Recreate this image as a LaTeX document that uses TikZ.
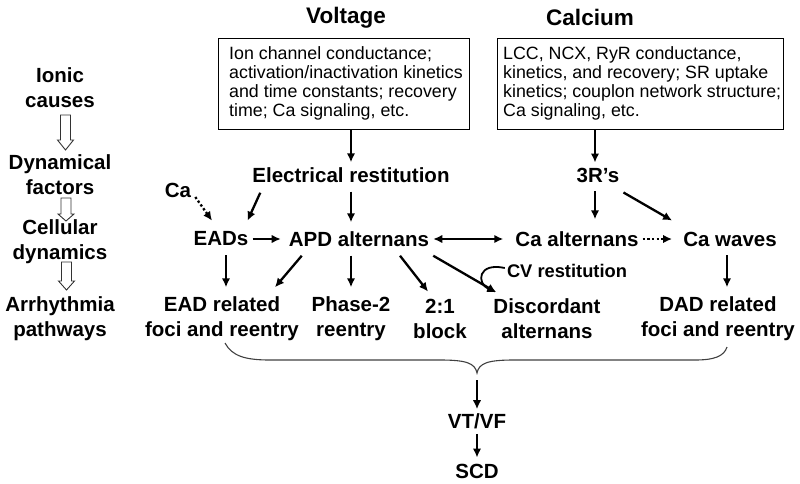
\documentclass[tikz,border=0pt]{standalone}
\usepackage{fontspec}
\setmainfont{Liberation Sans}
\usetikzlibrary{arrows.meta,calc}
\newcommand\hollowarr[4]{%
  \draw[hol] (#1-5,#2) -- (#1+5,#2) -- (#1+5,#3) -- (#1+8,#3) -- (#1,#4) -- (#1-8,#3) -- (#1-5,#3) -- cycle;}
\begin{document}
\begin{tikzpicture}[x=1pt,y=-1pt,
  lbl/.style={font=\fontsize{20.5}{25}\selectfont\bfseries, inner xsep=4pt, inner ysep=9pt, align=center},
  side/.style={font=\fontsize{20.5}{25}\selectfont\bfseries, inner sep=1pt, align=center},
  headl/.style={font=\fontsize{22.5}{27}\selectfont\bfseries, inner sep=1pt},
  boxtxt/.style={font=\fontsize{17.8}{19}\selectfont, align=left, inner sep=0pt, anchor=west},
  pbox/.style={draw, line width=1pt, inner sep=0pt},
  arr/.style={line width=2.3pt, -{Latex[length=9pt,width=8.5pt]}},
  dotarr/.style={arr, dash pattern=on 2.3pt off 2.3pt},
  hol/.style={draw=black!80, line width=0.9pt, fill=white},
  bracel/.style={draw=black!75, line width=1.1pt}
]
\useasboundingbox (0,0) rectangle (800,483);

% headings
\node[headl] (volt) at (346,18) {Voltage};
\node[headl] (calc) at (590,17.5) {Calcium};

% boxes
\node[pbox, minimum width=251pt, minimum height=91pt] (vbox) at (343.5,83.5) {};
\node[boxtxt] (vtxt) at (229,83) {Ion channel conductance;\\activation/inactivation kinetics\\and time constants; recovery\\time; Ca signaling, etc.};
\node[pbox, minimum width=286pt, minimum height=91pt] (cbox) at (640,83.5) {};
\node[boxtxt] (ctxt) at (503,83) {LCC, NCX, RyR conductance,\\kinetics, and recovery; SR uptake\\kinetics; couplon network structure;\\Ca signaling, etc.};

% left column
\node[side] (ionic) at (60,88) {Ionic\\causes};
\node[side] (dyn) at (60,175) {Dynamical\\factors};
\node[side] (cell) at (60,242) {Cellular\\dynamics};
\node[side] (arrh) at (60,319) {Arrhythmia\\pathways};
\hollowarr{65.5}{115}{140}{150}
\hollowarr{66}{198}{214}{221}
\hollowarr{66.5}{262}{281}{290}

% main nodes
\node[lbl] (er) at (351,175) {Electrical restitution};
\node[lbl] (r3) at (598,175) {3R’s};
\node[lbl] (ca) at (178,190) {Ca};
\node[lbl] (eads) at (221,239) {EADs};
\node[lbl] (apd) at (359,239) {APD alternans};
\node[lbl] (caalt) at (577,239) {Ca alternans};
\node[lbl] (cawaves) at (730,239) {Ca waves};
\node[lbl, font=\fontsize{18.3}{22}\selectfont\bfseries, inner ysep=2pt] (cvr) at (567,271) {CV restitution};
\node[lbl] (ead) at (222,318.5) {EAD related\\foci and reentry};
\node[lbl] (ph2) at (351,318.5) {Phase-2\\reentry};
\node[lbl] (blk) at (440,318.5) {2:1\\block};
\node[lbl] (disc) at (547,318.5) {Discordant\\alternans};
\node[lbl] (dad) at (718,318.5) {DAD related\\foci and reentry};
\node[lbl] (vtvf) at (477,421) {VT/VF};
\node[lbl] (scd) at (477,471) {SCD};

% brace
\coordinate (bl) at (225,343);
\coordinate (br) at (727,347);
\coordinate (bt) at (477,373);
\draw[bracel] (bl) .. controls (232,356) and (245,360) .. (270,360) -- (440,360)
  .. controls (466,360) and (475,363) .. (bt)
  .. controls (479,363) and (488,360) .. (514,360) -- (695,360)
  .. controls (715,360) and (724,356) .. (br);

% connectors
\draw[arr] ([xshift=7.5pt]vbox.south) -- ([yshift=-4pt]er.north);
\draw[arr] ([xshift=-45pt]cbox.south) -- ([xshift=-3pt,yshift=-4pt]r3.north);
\draw[arr] ([xshift=12pt,yshift=-1pt]er.south west) -- ([xshift=-5pt,yshift=2pt]eads.north east);
\draw[arr] (er.south) -- (er.south |- apd.north);
\draw[dotarr] ([yshift=-7pt]ca.east) -- ([xshift=-9pt,yshift=2pt]eads.north);
\draw[arr] (eads.east) -- ([xshift=-4pt]apd.west);
\draw[arr, {Latex[length=9pt,width=8.5pt]}-{Latex[length=9pt,width=8.5pt]}] (apd.east) -- ([xshift=-8pt]caalt.west);
\draw[dotarr] (caalt.east) -- ([xshift=-7pt]cawaves.west);
\draw[arr] ([xshift=-3pt]r3.south) -- ([xshift=18pt,yshift=3pt]caalt.north);
\draw[arr] ([yshift=-1pt]r3.south east) -- ([xshift=-7pt,yshift=2pt]cawaves.north west);
\draw[arr] ([xshift=-3pt]cawaves.south) -- ([xshift=9pt]dad.north);
\draw[arr] ([xshift=5pt]eads.south) -- ([xshift=4pt]ead.north);
\draw[arr] ([xshift=17pt]apd.south west) -- ([xshift=53pt]ead.north);
\draw[arr] ([xshift=-8pt]apd.south) -- (ph2.north);
\draw[arr] ([xshift=41pt]apd.south) -- ([xshift=-12pt,yshift=-2pt]blk.north);
\draw[arr] (apd.south east) -- ([xshift=7pt,yshift=-3pt]disc.north west);
\draw[line width=1.8pt, -{Latex[length=8pt,width=7.5pt]}] ([xshift=2pt,yshift=3pt]cvr.west) .. controls (478,262) and (476,283) .. ([xshift=6pt,yshift=-3pt]disc.north west);
\draw[arr] ([yshift=-7pt]bt) -- ([yshift=-5pt]vtvf.north);
\draw[arr] ([yshift=4pt]vtvf.south) -- ([yshift=-3pt]scd.north);
\end{tikzpicture}
\end{document}
